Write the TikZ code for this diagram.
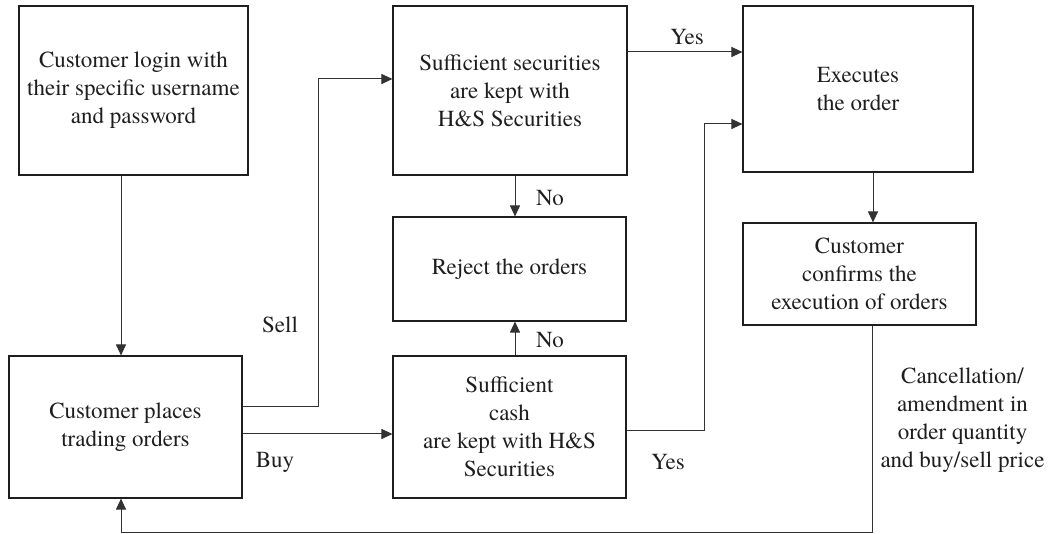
\documentclass[tikz,border=0pt]{standalone}
\usepackage{fontspec}
\setmainfont{texgyretermes-regular.otf}[BoldFont=texgyretermes-bold.otf]
\usetikzlibrary{arrows.meta}
\definecolor{ink}{RGB}{30,30,30}
\definecolor{wire}{RGB}{50,50,50}
\tikzset{
  box/.style={draw=ink, line width=1.1pt, inner sep=0pt, align=center, text=ink,
    font=\rmfamily\fontsize{23}{28}\selectfont},
  lbl/.style={inner sep=0pt, align=center, text=ink, font=\rmfamily\fontsize{23}{28}\selectfont},
  wireline/.style={draw=wire, line width=1pt},
  arr/.style={wireline, -{Triangle[length=11pt,width=10pt]}}
}
\begin{document}
\begin{tikzpicture}[x=1pt,y=-1pt]
\useasboundingbox (0,0) rectangle (1050,534);
% boxes
\node[box, minimum width=229pt, minimum height=169pt] (A) at (133.5,90.5)
  {Customer login with\\their specific username\\and password};
\node[box, minimum width=233pt, minimum height=142pt] (B) at (125.5,427)
  {Customer places\\trading orders};
\node[box, minimum width=234pt, minimum height=169pt] (C) at (510,90.5)
  {Sufficient securities\\are kept with\\H\&S Securities};
\node[box, minimum width=233pt, minimum height=104pt] (D) at (509.5,269)
  {Reject the orders};
\node[box, minimum width=233pt, minimum height=142pt] (E) at (509.5,427)
  {Sufficient\\cash\\are kept with H\&S\\Securities};
\node[box, minimum width=230pt, minimum height=166pt] (F) at (858,89)
  {Executes\\the order};
\node[box, minimum width=233pt, minimum height=102pt] (G) at (859.5,274)
  {Customer\\confirms the\\execution of orders};
% helper coordinates
\coordinate (sellx) at (318,0);
\coordinate (yesx) at (704,0);
\coordinate (bot) at (0,532);
\coordinate (cin) at ([yshift=11.5pt]C.west);
\coordinate (fin) at ([yshift=-35pt]F.west);
\coordinate (gout) at ([xshift=12.5pt]G.south);
\coordinate (bin) at ([xshift=-4.5pt]B.south);
% connectors
\draw[arr] ([xshift=-12.5pt]A.south) -- ([xshift=-12.5pt]A.south |- B.north);
\draw[arr] ([yshift=20pt]B.east) -| (sellx |- cin) -- (cin);
\draw[arr] ([yshift=-7pt]B.east) -- ([yshift=-7pt]B.east -| E.west);
\draw[arr] ([xshift=5pt]C.south) -- ([xshift=5pt]C.south |- D.north);
\draw[arr] ([xshift=5.5pt]E.north) -- ([xshift=5.5pt]E.north |- D.south);
\draw[arr] ([yshift=38.5pt]C.east) -- ([yshift=38.5pt]C.east -| F.west);
\draw[arr] ([yshift=-4pt]E.east) -| (yesx |- fin) -- (fin);
\draw[arr] ([xshift=15pt]F.south) -- ([xshift=15pt]F.south |- G.north);
\draw[arr] (gout) -- (gout |- bot) -| (bin);
% labels
\node[lbl] (lyes1) at (687,37) {Yes};
\node[lbl] (lno1) at (550,198) {No};
\node[lbl] (lno2) at (550,340) {No};
\node[lbl] (lyes2) at (668,462) {Yes};
\node[lbl] (lsell) at (280,325) {Sell};
\node[lbl] (lbuy) at (275,462) {Buy};
\node[lbl] (lcancel) at (962.5,420)
  {Cancellation/\\amendment in\\order quantity\\and buy/sell price};
\end{tikzpicture}
\end{document}
